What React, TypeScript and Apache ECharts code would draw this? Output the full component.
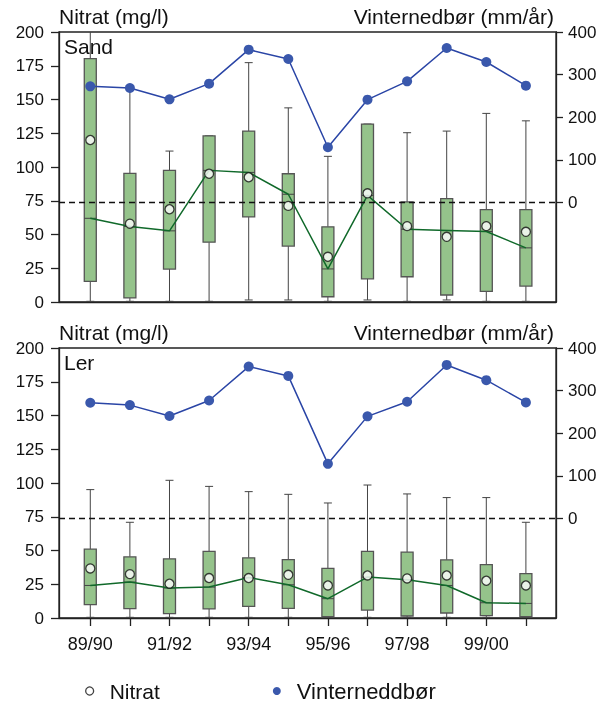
import React, { useEffect, useRef } from "react";
import * as echarts from "echarts";

const categories = ["89/90", "90/91", "91/92", "92/93", "93/94", "94/95", "95/96", "96/97", "97/98", "98/99", "99/00", "00/01"];
const labelIdx = [0, 2, 4, 6, 8, 10];
const tickIdx = [0, 1, 2, 3, 4, 5, 6, 7, 8, 9, 10, 11];
const leftTicks = [0, 25, 50, 75, 100, 125, 150, 175, 200];
const rightTicks = [0, 100, 200, 300, 400];

// Sand
const sandMin = [0.5, 0.5, 0.5, 0.5, 1.5, 1.5, 0.5, 1.5, 0.5, 1.5, 0.5, 0.5];
const sandQ1 = [15.3, 3, 24.4, 44.3, 63, 41.4, 3.9, 17.2, 18.7, 5.2, 7.9, 11.8];
const sandMedian = [62, 56, 52.7, 97.5, 96, 79.8, 24.5, 79, 53.9, 53, 52.2, 40.1];
const sandQ3 = [180.3, 95.3, 97.5, 123.1, 126.6, 95, 55.7, 131.8, 74.1, 76.6, 68.5, 68.5];
const sandMax = [215, 158, 111.8, 123.1, 177.3, 143.8, 107.9, 131.8, 125.4, 126.6, 139.7, 134.2];
const sandMean = [120, 58, 68.7, 95, 92.4, 71.2, 33.5, 80.5, 56.2, 48.3, 56.2, 52];
const sandRain = [272.7, 268.8, 242.2, 278.9, 358.6, 336.7, 129.7, 241.4, 284.4, 362.5, 329.7, 274.2];

// Ler
const lerMin = [0.5, 0.5, 0.5, 0.5, 0.5, 0.5, 0.5, 0.5, 0.5, 0.5, 0.5, 0.5];
const lerQ1 = [9.9, 6.9, 3.2, 6.7, 8.6, 7.1, 1, 5.9, 1.5, 3.7, 1.7, 1];
const lerMedian = [24.1, 26.6, 22.2, 22.9, 30, 24.6, 14.3, 30.3, 28.3, 24.1, 11.3, 10.8];
const lerQ3 = [51, 45.3, 43.8, 49.3, 44.6, 43.3, 36.7, 49.3, 48.8, 43.1, 39.6, 32.9];
const lerMax = [95.1, 70.9, 102, 97.5, 93.6, 91.6, 85.2, 98.5, 91.9, 89.2, 89.2, 70.9];
const lerMean = [36.7, 32.5, 25.4, 29.6, 29.6, 32, 24.1, 31.5, 29.3, 31.5, 27.6, 24.1];
const lerRain = [271.6, 266.1, 240.5, 277, 356.4, 334.6, 128.4, 239.7, 273.9, 360.3, 324.5, 272.4];

const FONT = "'Liberation Sans', Arial, sans-serif";
const BOX_FILL = "#95c38b";
const BOX_STROKE = "#555555";
const GREEN = "#10692a";
const BLUE_LINE = "#2a45a6";
const BLUE_DOT = "#3a58ac";
const AXIS = "#222222";

function renderBox(params: any, api: any) {
  const x = api.value(0);
  const lo = api.coord([x, api.value(1)]);
  const q1 = api.coord([x, api.value(2)]);
  const med = api.coord([x, api.value(3)]);
  const q3 = api.coord([x, api.value(4)]);
  const hi = api.coord([x, api.value(5)]);
  const cx = q1[0];
  const w = 12;
  const cap = 4;
  const ws = { stroke: "#444", lineWidth: 1 };
  return {
    type: "group",
    children: [
      { type: "line", shape: { x1: cx, y1: lo[1], x2: cx, y2: q1[1] }, style: ws },
      { type: "line", shape: { x1: cx, y1: q3[1], x2: cx, y2: hi[1] }, style: ws },
      { type: "line", shape: { x1: cx - cap, y1: lo[1], x2: cx + cap, y2: lo[1] }, style: ws },
      { type: "line", shape: { x1: cx - cap, y1: hi[1], x2: cx + cap, y2: hi[1] }, style: ws },
      {
        type: "rect",
        shape: { x: cx - w / 2, y: q3[1], width: w, height: q1[1] - q3[1] },
        style: { fill: BOX_FILL, stroke: BOX_STROKE, lineWidth: 1.3 },
      },
      { type: "line", shape: { x1: cx - w / 2, y1: med[1], x2: cx + w / 2, y2: med[1] }, style: { stroke: "#444", lineWidth: 1 } },
    ],
  };
}

function panelSeries(idx: number, mn: number[], q1: number[], md: number[], q3: number[], mx: number[], mean: number[], rain: number[]) {
  const boxData = categories.map((_, i) => [i, mn[i], q1[i], md[i], q3[i], mx[i]]);
  return [
    {
      type: "custom",
      name: "box" + idx,
      xAxisIndex: idx,
      yAxisIndex: idx * 2,
      renderItem: renderBox,
      encode: { x: 0, y: [1, 2, 3, 4, 5] },
      data: boxData,
      clip: true,
      z: 2,
    },
    {
      type: "line",
      name: "median" + idx,
      xAxisIndex: idx,
      yAxisIndex: idx * 2,
      data: categories.map((_, i) => [i, md[i]]),
      showSymbol: false,
      symbol: "none",
      lineStyle: { color: GREEN, width: 1.5 },
      z: 3,
    },
    {
      type: "line",
      name: "Vinterneddbør",
      xAxisIndex: idx,
      yAxisIndex: idx * 2 + 1,
      data: categories.map((_, i) => [i, rain[i]]),
      symbol: "circle",
      symbolSize: 10,
      showSymbol: true,
      lineStyle: { color: BLUE_LINE, width: 1.5 },
      itemStyle: { color: BLUE_DOT },
      z: 4,
      markLine: {
        silent: true,
        symbol: "none",
        label: { show: false },
        lineStyle: { type: [6, 4], color: "#111", width: 1.3 },
        data: [{ yAxis: 0 }],
      },
    },
    {
      type: "scatter",
      name: "Nitrat",
      xAxisIndex: idx,
      yAxisIndex: idx * 2,
      data: categories.map((_, i) => [i, mean[i]]),
      symbol: "circle",
      symbolSize: 9,
      itemStyle: { color: "#ffffff", borderColor: "#111", borderWidth: 1.3 },
      z: 5,
    },
  ];
}

function xAxisDef(idx: number, showLabels: boolean) {
  return {
    type: "value",
    gridIndex: idx,
    min: -0.79,
    max: 11.76,
    splitLine: { show: false },
    axisLine: { show: true, onZero: false, lineStyle: { color: AXIS, width: 1.3 } },
    axisTick: { show: showLabels, customValues: tickIdx, length: 8, lineStyle: { color: AXIS, width: 1.3 } },
    axisLabel: {
      show: showLabels,
      customValues: labelIdx,
      formatter: (v: number) => categories[Math.round(v)] ?? "",
      fontSize: 18,
      color: "#111",
      margin: 17,
      fontFamily: FONT,
    },
  };
}

function yAxesDef(idx: number) {
  return [
    {
      type: "value",
      gridIndex: idx,
      min: 0,
      max: 200,
      interval: 25,
      position: "left",
      splitLine: { show: false },
      axisLine: { show: true, onZero: false, lineStyle: { color: AXIS, width: 1.3 } },
      axisTick: { show: true, length: 8, customValues: leftTicks, lineStyle: { color: AXIS, width: 1.3 } },
      axisLabel: { fontSize: 17, color: "#111", margin: 15, fontFamily: FONT, customValues: leftTicks },
    },
    {
      type: "value",
      gridIndex: idx,
      min: -233,
      max: 400,
      position: "right",
      splitLine: { show: false },
      axisLine: { show: true, onZero: false, lineStyle: { color: AXIS, width: 1.3 } },
      axisTick: { show: true, length: 7, customValues: rightTicks, lineStyle: { color: AXIS, width: 1.3 } },
      axisLabel: { fontSize: 17, color: "#111", margin: 12, fontFamily: FONT, customValues: rightTicks },
    },
  ];
}

export default function App() {
  const ref = useRef<HTMLDivElement>(null);
  useEffect(() => {
    if (!ref.current) return;
    const chart = echarts.init(ref.current, null, { renderer: "svg" });
    const titleStyle = { fontSize: 21, fontWeight: "normal", color: "#111", fontFamily: FONT };
    chart.setOption({
      animation: false,
      textStyle: { fontFamily: FONT },
      title: [
        { text: "Nitrat (mg/l)", left: 59, top: 6, padding: 0, textStyle: titleStyle },
        { text: "Vinternedbør (mm/år)", right: 59, top: 6, padding: 0, textStyle: titleStyle },
        { text: "Sand", left: 64, top: 36, padding: 0, textStyle: titleStyle },
        { text: "Nitrat (mg/l)", left: 59, top: 322, padding: 0, textStyle: titleStyle },
        { text: "Vinternedbør (mm/år)", right: 59, top: 322, padding: 0, textStyle: titleStyle },
        { text: "Ler", left: 64, top: 352, padding: 0, textStyle: titleStyle },
      ],
      legend: {
        data: [
          { name: "Nitrat", itemStyle: { color: "#ffffff", borderColor: "#111", borderWidth: 1.3 } },
          { name: "Vinterneddbør", itemStyle: { color: BLUE_DOT }, textStyle: { fontSize: 22 } },
        ],
        left: 85,
        top: 680,
        padding: 0,
        icon: "circle",
        itemWidth: 30,
        itemHeight: 8,
        itemGap: 113,
        textStyle: { fontSize: 21, color: "#111", fontFamily: FONT },
      },
      grid: [
        { left: 59, top: 32, width: 497, height: 270, show: true, borderColor: AXIS, borderWidth: 1.3, containLabel: false },
        { left: 59, top: 348, width: 497, height: 270, show: true, borderColor: AXIS, borderWidth: 1.3, containLabel: false },
      ],
      xAxis: [xAxisDef(0, false), xAxisDef(1, true)],
      yAxis: [...yAxesDef(0), ...yAxesDef(1)],
      series: [
        ...panelSeries(0, sandMin, sandQ1, sandMedian, sandQ3, sandMax, sandMean, sandRain),
        ...panelSeries(1, lerMin, lerQ1, lerMedian, lerQ3, lerMax, lerMean, lerRain),
      ],
    });
    return () => chart.dispose();
  }, []);
  return <div ref={ref} style={{ position: "fixed", left: 0, top: 0, width: 613, height: 704 }} />;
}
